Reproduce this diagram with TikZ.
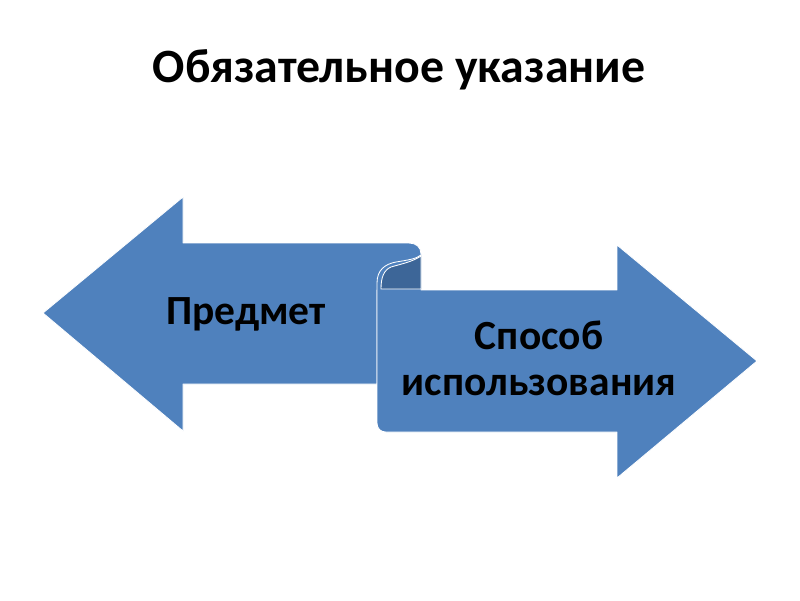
\documentclass[tikz,border=0pt]{standalone}
\usepackage{fontspec}
\setmainfont{Carlito}
\usepackage{tikz}

\definecolor{arrowblue}{HTML}{4F81BD}
\definecolor{foldblue}{HTML}{3D6698}

\begin{document}
\begin{tikzpicture}[x=0.025cm,y=-0.025cm,
                    arrow shape/.style={fill=arrowblue,draw=white,line width=0.6pt,line join=round},
                    fold shape/.style={fill=foldblue,draw=white,line width=0.6pt,line join=round},
                    title text/.style={font=\fontsize{34}{40}\selectfont\bfseries,anchor=base},
                    label text/.style={font=\fontsize{29.5}{35}\selectfont\bfseries,anchor=base}]

  \useasboundingbox (0,0) rectangle (800,600);

  % left arrow, its shaft ends in the fold
  \path[arrow shape] (43,313) -- (183,197) -- (183,243) -- (409,243)
    .. controls (416,243) and (421,247) .. (421,254) -- (421,290) -- (377,290)
    -- (377,384) -- (183,384) -- (183,431) -- cycle;

  % right arrow, rolled up at its left end
  \path[arrow shape] (617,290) -- (617,245) -- (757,361) -- (617,478) -- (617,432)
    -- (386,432) .. controls (381,432) and (377,429) .. (377,423) -- (377,283)
    .. controls (377,270) and (385,264) .. (396,262)
    .. controls (408,260) and (416,259) .. (421,255) -- (421,290) -- cycle;

  % inside of the roll
  \path[fold shape] (421,256) .. controls (412,262) and (401,264) .. (391,267)
    .. controls (384,270) and (381,277) .. (381,289) -- (421,289) -- cycle;

  \node[title text] (title) at (399,82) {Обязательное указание};
  \node[label text] (subject) at (246,324) {Предмет};
  \node[label text] (way1) at (539,349) {Способ};
  \node[label text] (way2) at (539,395) {использования};

\end{tikzpicture}
\end{document}
